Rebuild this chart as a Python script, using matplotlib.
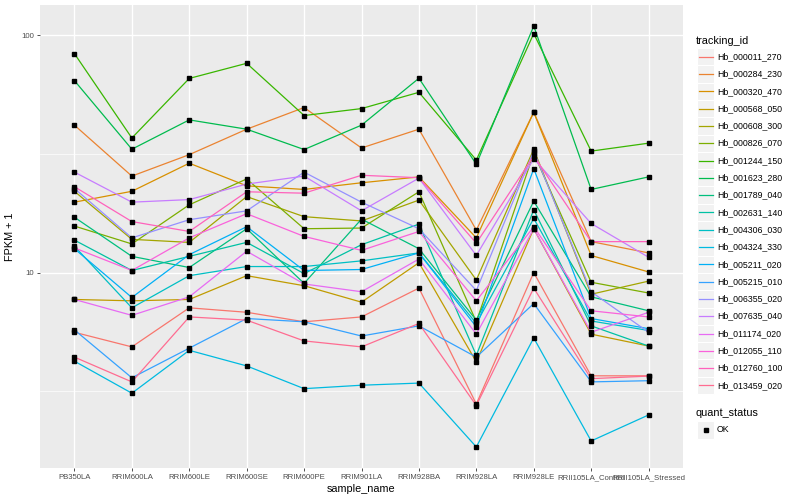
import numpy as np
import matplotlib.pyplot as plt
from matplotlib.patches import Rectangle
from matplotlib.lines import Line2D
from matplotlib.ticker import FixedLocator, NullFormatter, NullLocator

plt.rcParams['font.family'] = ['Liberation Sans', 'DejaVu Sans']

samples = ['PB350LA', 'RRIM600LA', 'RRIM600LE', 'RRIM600SE', 'RRIM600PE',
           'RRIM901LA', 'RRIM928BA', 'RRIM928LA', 'RRIM928LE',
           'RRII105LA_Control', 'RRII105LA_Stressed']

tracking_ids = ['Hb_000011_270', 'Hb_000284_230', 'Hb_000320_470', 'Hb_000568_050',
                'Hb_000608_300', 'Hb_000826_070', 'Hb_001244_150', 'Hb_001623_280',
                'Hb_001789_040', 'Hb_002631_140', 'Hb_004306_030', 'Hb_004324_330',
                'Hb_005211_020', 'Hb_005215_010', 'Hb_006355_020', 'Hb_007635_040',
                'Hb_011174_020', 'Hb_012055_110', 'Hb_012760_100', 'Hb_013459_020']

# ggplot default hue palette for 20 levels
hue_colors = ['#F8766D', '#EA8331', '#D89000', '#C09B00', '#A3A500', '#7CAE00',
              '#39B600', '#00BB4E', '#00BF7D', '#00C1A3', '#00BFC4', '#00BAE0',
              '#00B0F6', '#35A2FF', '#9590FF', '#C77CFF', '#E76BF3', '#FA62DB',
              '#FF62BC', '#FF6C91']

# FPKM + 1, one list per gene, in sample order
hb_000011_270 = [5.6, 4.86, 7.1, 6.8, 6.2, 6.5, 8.6, 2.79, 10.0, 3.67, 3.67]
hb_000284_230 = [41.8, 25.5, 31.4, 40.2, 49.6, 33.5, 40.2, 15.1, 47.4, 13.5, 12.1]
hb_000320_470 = [19.8, 22.0, 28.9, 23.2, 22.4, 23.9, 25.3, 14.0, 47.4, 11.8, 10.06]
hb_000568_050 = [7.7, 7.6, 7.7, 9.7, 8.8, 7.5, 11.0, 4.2, 15.3, 5.5, 4.9]
hb_000608_300 = [22.0, 13.8, 13.4, 20.9, 17.2, 16.5, 20.2, 9.3, 33.1, 8.1, 9.2]
hb_000826_070 = [15.7, 13.2, 19.3, 24.8, 15.3, 15.4, 21.9, 6.2, 31.8, 9.1, 8.2]
hb_001244_150 = [83.7, 36.9, 65.8, 76.2, 45.9, 49.1, 57.5, 29.8, 101.7, 32.5, 35.1]
hb_001623_280 = [64.4, 33.1, 44.0, 40.2, 33.0, 41.8, 65.9, 28.6, 109.4, 22.4, 25.3]
hb_001789_040 = [17.1, 11.7, 10.5, 15.3, 9.0, 16.8, 12.6, 6.3, 20.0, 7.9, 6.9]
hb_002631_140 = [13.7, 10.2, 11.7, 13.4, 9.9, 13.1, 16.0, 4.48, 18.4, 5.96, 4.9]
hb_004306_030 = [12.9, 7.1, 9.7, 10.6, 10.6, 11.2, 12.1, 6.1, 16.9, 6.25, 5.7]
hb_004324_330 = [4.23, 3.1, 4.7, 4.04, 3.24, 3.35, 3.42, 1.84, 5.3, 1.95, 2.51]
hb_005211_020 = [12.6, 7.85, 11.9, 15.6, 10.2, 10.3, 12.1, 5.9, 27.4, 6.4, 5.8]
hb_005215_010 = [5.73, 3.6, 4.8, 6.4, 6.2, 5.4, 5.96, 4.4, 7.4, 3.46, 3.5]
hb_006355_020 = [22.6, 14.0, 16.7, 18.2, 26.5, 19.8, 15.3, 8.4, 32.5, 8.3, 5.6]
hb_007635_040 = [26.5, 19.8, 20.3, 23.6, 25.5, 18.2, 25.0, 11.8, 30.2, 16.1, 11.6]
hb_011174_020 = [7.7, 6.6, 7.9, 12.3, 8.95, 8.3, 11.4, 5.5, 15.3, 5.6, 6.8]
hb_012055_110 = [12.7, 10.2, 14.0, 17.7, 14.2, 12.4, 14.9, 7.6, 15.6, 6.9, 6.5]
hb_012760_100 = [23.0, 16.4, 14.9, 21.9, 21.6, 25.7, 25.1, 13.3, 31.0, 13.5, 13.5]
hb_013459_020 = [4.4, 3.46, 6.5, 6.3, 5.15, 4.86, 6.1, 2.75, 8.6, 3.57, 3.66]

fpkm = [hb_000011_270, hb_000284_230, hb_000320_470, hb_000568_050, hb_000608_300,
        hb_000826_070, hb_001244_150, hb_001623_280, hb_001789_040, hb_002631_140,
        hb_004306_030, hb_004324_330, hb_005211_020, hb_005215_010, hb_006355_020,
        hb_007635_040, hb_011174_020, hb_012055_110, hb_012760_100, hb_013459_020]

W, H = 800, 500
fig = plt.figure(figsize=(8, 5), dpi=100)
ax = fig.add_axes([40 / W, 1 - 468 / H, 643 / W, 463 / H])
ax.set_facecolor('#EBEBEB')

x = np.arange(len(samples))
for vals, col in zip(fpkm, hue_colors):
    ax.plot(x, vals, color=col, lw=0.9, zorder=2)
for vals in fpkm:
    ax.plot(x, vals, ls='none', marker='s', ms=2.6, color='black', zorder=3)

# ggplot-like limits: 5% expansion on log scale, 0.6 on discrete axis
lo = np.log10(min(min(v) for v in fpkm))
hi = np.log10(max(max(v) for v in fpkm))
pad = 0.05 * (hi - lo)
ax.set_yscale('log')
ax.set_ylim(10 ** (lo - pad), 10 ** (hi + pad))
ax.set_xlim(-0.6, len(samples) - 0.4)

ax.set_yticks([10, 100])
ax.set_yticklabels(['10', '100'])
ax.yaxis.set_minor_locator(FixedLocator([10 ** 0.5, 10 ** 1.5]))
ax.yaxis.set_minor_formatter(NullFormatter())
ax.set_xticks(x)
ax.set_xticklabels(samples)
ax.xaxis.set_minor_locator(NullLocator())

ax.grid(which='major', color='white', lw=1.0, zorder=0)
ax.grid(which='minor', axis='y', color='white', lw=0.5, zorder=0)
ax.set_axisbelow(True)
for s in ax.spines.values():
    s.set_visible(False)
ax.tick_params(which='major', length=2.5, width=0.6, color='#333333',
               labelcolor='#4D4D4D', labelsize=5.6, pad=2)
ax.tick_params(which='minor', length=0)

ax.set_xlabel('sample_name', fontsize=7.8, labelpad=2)
ax.set_ylabel('FPKM + 1', fontsize=7.8, labelpad=4)


def px(xp, yp):
    return xp / W, 1 - yp / H


# legend: tracking_id
fig.text(*px(696, 41), 'tracking_id', fontsize=7.8, va='center', ha='left')
key = 17.3
for i, (name, col) in enumerate(zip(tracking_ids, hue_colors)):
    yc = 56.7 + key * i
    bx, by = px(697, yc + key / 2)
    fig.patches.append(Rectangle((bx, by), 17 / W, key / H, transform=fig.transFigure,
                                 facecolor='#F2F2F2', edgecolor='white', lw=0.8))
    x0, y0 = px(698.5, yc)
    x1, _ = px(712.5, yc)
    fig.lines.append(Line2D([x0, x1], [y0, y0], transform=fig.transFigure, color=col, lw=0.9))
    fig.text(*px(717, yc), name, fontsize=6.3, va='center', ha='left')

# legend: quant_status
fig.text(*px(696, 413), 'quant_status', fontsize=7.8, va='center', ha='left')
bx, by = px(697, 430 + key / 2)
fig.patches.append(Rectangle((bx, by), 17 / W, key / H, transform=fig.transFigure,
                             facecolor='#F2F2F2', edgecolor='white', lw=0.8))
fig.lines.append(Line2D([px(705.5, 430)[0]], [px(705.5, 430)[1]], transform=fig.transFigure,
                        ls='none', marker='s', ms=2.6, color='black'))
fig.text(*px(717, 430), 'OK', fontsize=6.3, va='center', ha='left')

fig.savefig('out.png', dpi=100)
